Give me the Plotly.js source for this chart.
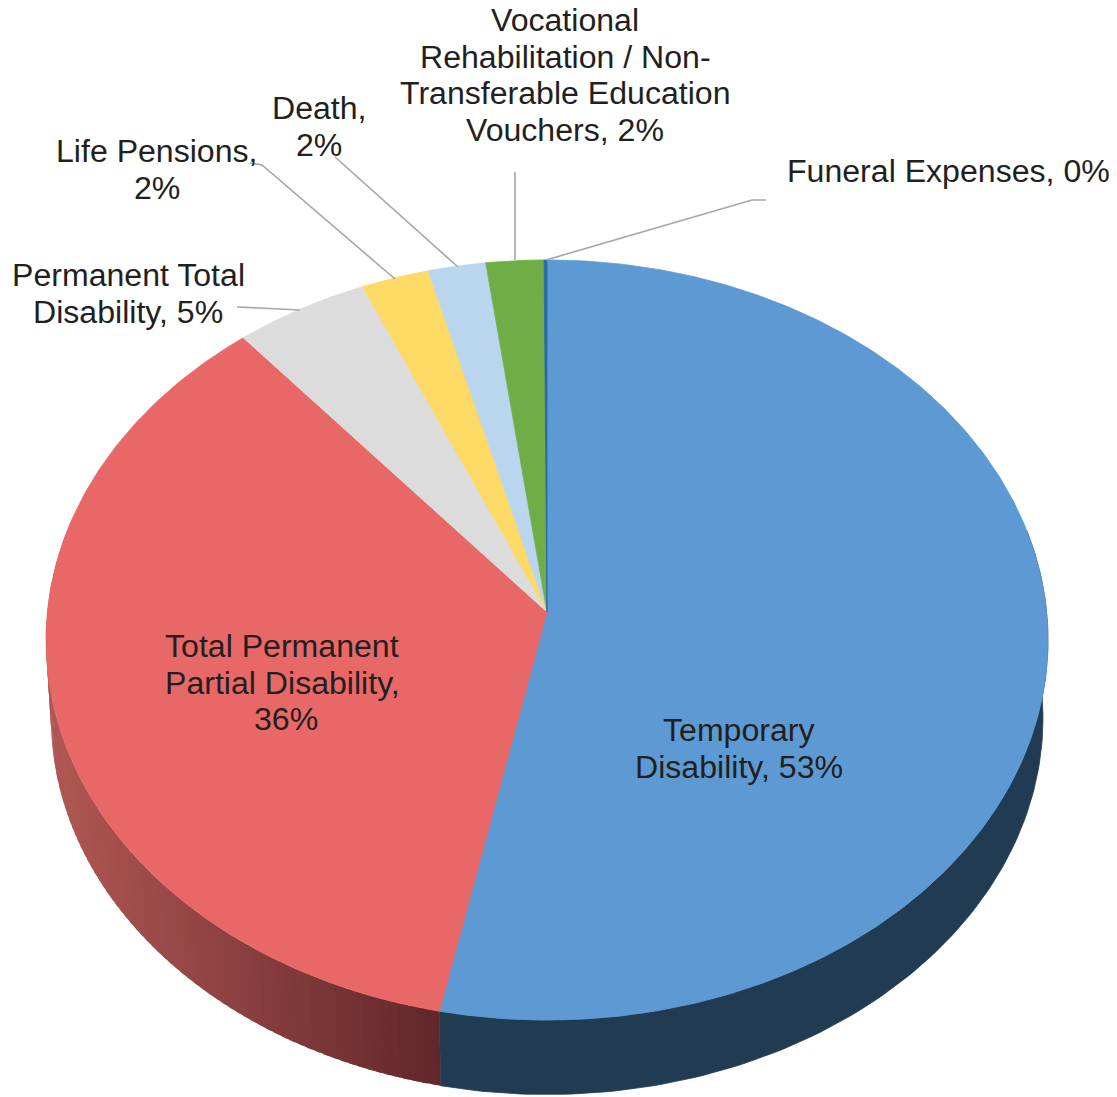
<!DOCTYPE html>
<html><head><meta charset="utf-8">
<script src="https://cdn.plot.ly/plotly-3.0.1.min.js"></script>
<style>html,body{margin:0;padding:0;background:#fff}</style></head>
<body><div id="chart" style="width:1117px;height:1097px"></div>
<script>
// Data (share of the whole, clockwise from 12 o'clock)
const categories = ["Temporary Disability","Total Permanent Partial Disability","Permanent Total Disability","Life Pensions","Death","Vocational Rehabilitation / Non-Transferable Education Vouchers","Funeral Expenses"];
const values = [53.2, 35.7, 4.65, 2.35, 2.0, 2.0, 0.1];
const colors = ["#5D9AD3","#E86868","#DCDCDC","#FDD966","#BAD6EE","#6FAE47","#2A69A8"];
const labelLines = [
  ["Temporary","Disability, 53%"],
  ["Total Permanent","Partial Disability,","36%"],
  ["Permanent Total","Disability, 5%"],
  ["Life Pensions,","2%"],
  ["Death,","2%"],
  ["Vocational","Rehabilitation / Non-","Transferable Education","Vouchers, 2%"],
  ["Funeral Expenses, 0%"]
];
const labelAnchors = [[739,730],[282,646],[128,275],[157,151],[319,108],[565,20],[948,171]];
const leaders = [null,null,
  [[237,307],[300,310]],
  [[250,163],[262,165],[395,279]],
  [[335,157],[458,267]],
  [[515,172],[515,260]],
  [[546,260],[752,200],[766,200]]];

// Pie geometry in the pixel-sized axis space
const cx=547, cy=612, A=499.6, B=378, K=0.0737;
const fontFamily='"Liberation Sans", Arial, sans-serif';
function topPt(t){const u=Math.sin(t),v=Math.cos(t),w=1+K*v;return [cx+A*u/w,cy-B*v/w];}
function botPt(t){const s=0.99,d=78.5;const u=Math.sin(t),v=Math.cos(t),w=1+K*v;return [cx+s*A*u/w,cy+d-s*B*v/w];}
const total=values.reduce((a,b)=>a+b,0);
const toAngle=p=>p/total*2*Math.PI;
function lerp(a,b,f){return a+(b-a)*f;}
const traces=[];
function poly(pts,color,lw){traces.push({type:'scatter',mode:'lines',x:pts.map(p=>p[0]),y:pts.map(p=>p[1]),fill:'toself',fillcolor:color,line:{color:color,width:lw},hoverinfo:'skip',showlegend:false});}

let cum=0; const startAngles=values.map(v=>{const s=cum;cum+=v;return s;});
const blueEnd=toAngle(values[0]), redWallEnd=3*Math.PI/2+0.25;
// blue wall
(function(){const pts=[];const n=120;for(let i=0;i<=n;i++){pts.push(topPt(lerp(1.35,blueEnd,i/n)));}
for(let i=n;i>=0;i--){pts.push(botPt(lerp(1.35,blueEnd,i/n)));}poly(pts,"#213B52",0.8);})();
// red wall: overlapping shaded strips, so no seams show between them
const wallLight=[174,86,82], wallDark=[96,38,40];
(function(){const n=90;for(let i=n-1;i>=0;i--){const a=lerp(redWallEnd,blueEnd,i/n),b=lerp(redWallEnd,blueEnd,(i+1)/n);
 const xm=topPt((a+b)/2)[0];const f=Math.min(1,Math.max(0,(xm-60)/(441-60)));
 const c=wallLight.map((l,k)=>Math.round(lerp(l,wallDark[k],f)));
 const b2=lerp(redWallEnd,blueEnd,Math.min(1,(i+1.6)/n));
 const p2=[];for(let j=0;j<=3;j++)p2.push(topPt(lerp(a,b2,j/3)));for(let j=3;j>=0;j--)p2.push(botPt(lerp(a,b2,j/3)));
 poly(p2,`rgb(${c[0]},${c[1]},${c[2]})`,0);}})();
// top face
values.forEach((v,i)=>{const a=toAngle(startAngles[i]),b=toAngle(startAngles[i]+v);const n=Math.max(4,Math.ceil(v*6));
 const pts=[[cx,cy]];for(let j=0;j<=n;j++)pts.push(topPt(lerp(a,b,j/n)));pts.push([cx,cy]);poly(pts,colors[i],0.8);});
// leader lines
leaders.forEach(l=>{if(!l)return;traces.push({type:'scatter',mode:'lines',x:l.map(p=>p[0]),y:l.map(p=>p[1]),line:{color:'#A6A6A6',width:1.6},hoverinfo:'skip',showlegend:false});});

const LINE=36.6;
const annotations=[];
labelLines.forEach((lines,i)=>{lines.forEach((t,j)=>{
  const dx=(t==="36%")?4:0;
  annotations.push({x:labelAnchors[i][0]+dx,y:labelAnchors[i][1]+j*LINE,xref:'x',yref:'y',text:t,showarrow:false,xanchor:'center',yanchor:'middle',font:{family:fontFamily,size:32.1,color:'#231F20'}});
});});

Plotly.newPlot('chart',traces,{
  width:1117,height:1097,margin:{l:0,r:0,t:0,b:0},paper_bgcolor:'#fff',plot_bgcolor:'#fff',showlegend:false,
  xaxis:{range:[0,1117],visible:false,fixedrange:true},
  yaxis:{range:[1097,0],visible:false,fixedrange:true},
  annotations
},{displayModeBar:false,staticPlot:true});
</script></body></html>
